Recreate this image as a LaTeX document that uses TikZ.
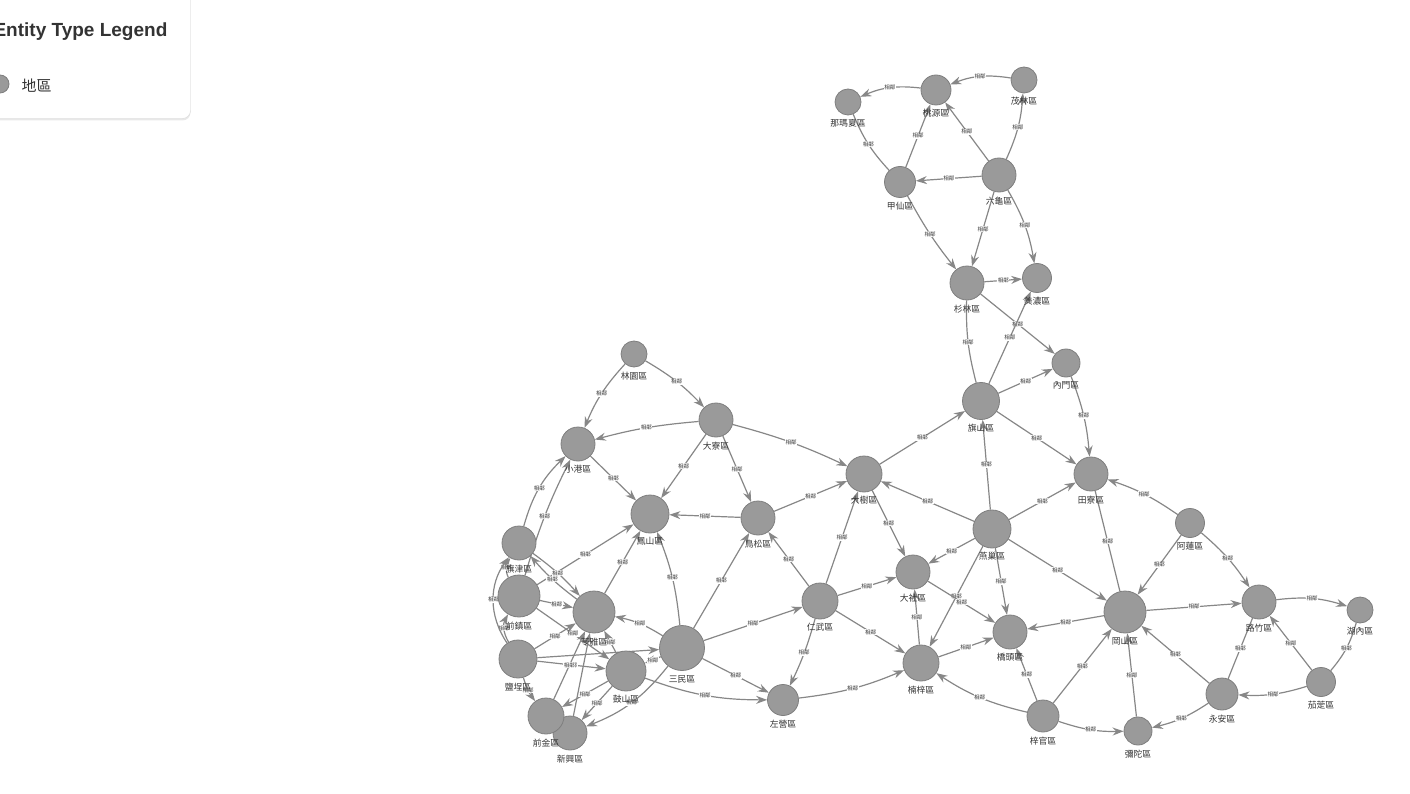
\documentclass[tikz,border=0pt]{standalone}
\usepackage{fontspec}
\setmainfont{Liberation Sans}
\newfontfamily\cjk{Noto Sans CJK TC}
\usepackage{tikz}
\usetikzlibrary{positioning,arrows.meta,backgrounds,shadows}
\definecolor{nodefill}{HTML}{9A9A9A}
\definecolor{nodeline}{HTML}{7E7E7E}
\definecolor{edgecol}{HTML}{878787}
\definecolor{labeltext}{HTML}{333333}

\begin{document}
\begin{tikzpicture}[
    x=1pt, y=-1pt,
    node distance=4pt,
    district/.style={circle, draw=nodeline, fill=nodefill, line width=0.8pt, minimum size=#1, inner sep=0pt},
    district/.default=34pt,
    dname/.style={font=\cjk\fontsize{8.8}{9}\selectfont, text=labeltext, inner sep=0pt},
    link/.style={-{Stealth[length=11pt,width=8pt]}, draw=edgecol, line width=1.2pt},
    rel/.style={font=\cjk\fontsize{5.5}{6}\selectfont, fill=white, inner sep=0.5pt, text=black!80},
    legendbox/.style={rectangle, draw=black!15, fill=white, rounded corners=8pt, drop shadow={shadow xshift=0pt, shadow yshift=-2pt, opacity=0.18}}
]
    \useasboundingbox (0,0) rectangle (1410,794);

    % legend
    \node[legendbox, minimum width=201pt, minimum height=129pt] (legend) at (90,54) {};
    \node[anchor=west, font=\bfseries\fontsize{19}{22}\selectfont, text=labeltext] (legtitle) at (-10,32) {Entity Type Legend};
    \node[district=18pt] (legdot) at (0,84) {};
    \node[anchor=west, font=\cjk\fontsize{15}{18}\selectfont, text=labeltext] (legtext) at (18,86) {地區};

    % districts
    \node[district=26pt] (namaxia) at (848,102) {};
    \node[dname, below=of namaxia] (namaxia-l) {那瑪夏區};
    \node[district=30pt] (taoyuan) at (936,90) {};
    \node[dname, below=of taoyuan] (taoyuan-l) {桃源區};
    \node[district=26pt] (maolin) at (1024,80) {};
    \node[dname, below=of maolin] (maolin-l) {茂林區};
    \node[district=31pt] (jiaxian) at (900,182) {};
    \node[dname, below=of jiaxian] (jiaxian-l) {甲仙區};
    \node[district=34pt] (liugui) at (999,175) {};
    \node[dname, below=of liugui] (liugui-l) {六龜區};
    \node[district=34pt] (shanlin) at (967,283) {};
    \node[dname, below=of shanlin] (shanlin-l) {杉林區};
    \node[district=29pt] (meinong) at (1037,278) {};
    \node[dname, below=of meinong] (meinong-l) {美濃區};
    \node[district=28pt] (neimen) at (1066,363) {};
    \node[dname, below=of neimen] (neimen-l) {內門區};
    \node[district=37pt] (qishan) at (981,401) {};
    \node[dname, below=of qishan] (qishan-l) {旗山區};
    \node[district=34pt] (tianliao) at (1091,474) {};
    \node[dname, below=of tianliao] (tianliao-l) {田寮區};
    \node[district=36pt] (dashu) at (864,474) {};
    \node[dname, below=of dashu] (dashu-l) {大樹區};
    \node[district=38pt] (yanchao) at (992,529) {};
    \node[dname, below=of yanchao] (yanchao-l) {燕巢區};
    \node[district=29pt] (alian) at (1190,523) {};
    \node[dname, below=of alian] (alian-l) {阿蓮區};
    \node[district=34pt] (luzhu) at (1259,602) {};
    \node[dname, below=of luzhu] (luzhu-l) {路竹區};
    \node[district=26pt] (hunei) at (1360,610) {};
    \node[dname, below=of hunei] (hunei-l) {湖內區};
    \node[district=29pt] (qieding) at (1321,682) {};
    \node[dname, below=of qieding] (qieding-l) {茄萣區};
    \node[district=32pt] (yongan) at (1222,694) {};
    \node[dname, below=of yongan] (yongan-l) {永安區};
    \node[district=28pt] (mituo) at (1138,731) {};
    \node[dname, below=of mituo] (mituo-l) {彌陀區};
    \node[district=32pt] (ziguan) at (1043,716) {};
    \node[dname, below=of ziguan] (ziguan-l) {梓官區};
    \node[district=42pt] (gangshan) at (1125,612) {};
    \node[dname, below=of gangshan] (gangshan-l) {岡山區};
    \node[district=34pt] (qiaotou) at (1010,632) {};
    \node[dname, below=of qiaotou] (qiaotou-l) {橋頭區};
    \node[district=36pt] (nanzi) at (921,663) {};
    \node[dname, below=of nanzi] (nanzi-l) {楠梓區};
    \node[district=34pt] (dashe) at (913,572) {};
    \node[dname, below=of dashe] (dashe-l) {大社區};
    \node[district=36pt] (renwu) at (820,601) {};
    \node[dname, below=of renwu] (renwu-l) {仁武區};
    \node[district=31pt] (zuoying) at (783,700) {};
    \node[dname, below=of zuoying] (zuoying-l) {左營區};
    \node[district=34pt] (niaosong) at (758,518) {};
    \node[dname, below=of niaosong] (niaosong-l) {鳥松區};
    \node[district=34pt] (daliao) at (716,420) {};
    \node[dname, below=of daliao] (daliao-l) {大寮區};
    \node[district=26pt] (linyuan) at (634,354) {};
    \node[dname, below=of linyuan] (linyuan-l) {林園區};
    \node[district=34pt] (xiaogang) at (578,444) {};
    \node[dname, below=of xiaogang] (xiaogang-l) {小港區};
    \node[district=38pt] (fengshan) at (650,514) {};
    \node[dname, below=of fengshan] (fengshan-l) {鳳山區};
    \node[district=34pt] (qijin) at (519,543) {};
    \node[dname, below=of qijin] (qijin-l) {旗津區};
    \node[district=42pt] (qianzhen) at (519,596) {};
    \node[dname, below=of qianzhen] (qianzhen-l) {前鎮區};
    \node[district=42pt] (lingya) at (594,612) {};
    \node[dname, below=of lingya] (lingya-l) {苓雅區};
    \node[district=38pt] (yancheng) at (518,659) {};
    \node[dname, below=of yancheng] (yancheng-l) {鹽埕區};
    \node[district=40pt] (gushan) at (626,671) {};
    \node[dname, below=of gushan] (gushan-l) {鼓山區};
    \node[district=45pt] (sanmin) at (682,648) {};
    \node[dname, below=of sanmin] (sanmin-l) {三民區};
    \node[district=34pt] (xinxing) at (570,733) {};
    \node[dname, below=of xinxing] (xinxing-l) {新興區};
    \node[district=36pt] (qianjin) at (546,716) {};
    \node[dname, below=of qianjin] (qianjin-l) {前金區};

    \begin{scope}[on background layer]
    % mountain districts
    \draw[link] (maolin) to[bend right=15] node[rel] {相鄰} (taoyuan);
    \draw[link] (taoyuan) to[bend right=15] node[rel] {相鄰} (namaxia);
    \draw[link, -] (jiaxian) to[bend left=10] node[rel] {相鄰} (namaxia);
    \draw[link] (jiaxian) -- node[rel] {相鄰} (taoyuan);
    \draw[link] (liugui) -- node[rel] {相鄰} (taoyuan);
    \draw[link] (liugui) to[bend right=10] node[rel] {相鄰} (maolin);
    \draw[link] (liugui) -- node[rel] {相鄰} (jiaxian);
    \draw[link] (liugui) -- node[rel] {相鄰} (shanlin);
    \draw[link] (liugui) to[bend left=10] node[rel] {相鄰} (meinong);
    \draw[link] (jiaxian) to[bend right=5] node[rel] {相鄰} (shanlin);
    \draw[link] (shanlin) -- node[rel] {相鄰} (meinong);
    \draw[link] (shanlin) -- node[rel] {相鄰} (neimen);
    \draw[link] (qishan) -- node[rel] {相鄰} (meinong);
    \draw[link, -] (qishan) to[bend left=8] node[rel] {相鄰} (shanlin);
    \draw[link] (qishan) -- node[rel] {相鄰} (neimen);
    \draw[link] (neimen) to[bend left=8] node[rel] {相鄰} (tianliao);
    \draw[link] (qishan) -- node[rel] {相鄰} (tianliao);
    \draw[link] (yanchao) -- node[rel] {相鄰} (qishan);
    \draw[link] (dashu) -- node[rel] {相鄰} (qishan);
    % middle
    \draw[link] (yanchao) -- node[rel] {相鄰} (dashu);
    \draw[link] (yanchao) -- node[rel] {相鄰} (tianliao);
    \draw[link] (alian) to[bend right=8] node[rel] {相鄰} (tianliao);
    \draw[link, -] (tianliao) -- node[rel] {相鄰} (gangshan);
    \draw[link] (yanchao) -- node[rel] {相鄰} (gangshan);
    \draw[link] (yanchao) -- node[rel] {相鄰} (qiaotou);
    \draw[link] (yanchao) -- node[rel] {相鄰} (dashe);
    \draw[link] (yanchao) -- node[rel] {相鄰} (nanzi);
    \draw[link] (alian) -- node[rel] {相鄰} (gangshan);
    \draw[link] (alian) to[bend left=8] node[rel] {相鄰} (luzhu);
    \draw[link] (gangshan) -- node[rel] {相鄰} (luzhu);
    % coast
    \draw[link] (luzhu) to[bend left=12] node[rel] {相鄰} (hunei);
    \draw[link, -] (qieding) to[bend right=12] node[rel] {相鄰} (hunei);
    \draw[link] (qieding) -- node[rel] {相鄰} (luzhu);
    \draw[link] (qieding) to[bend left=10] node[rel] {相鄰} (yongan);
    \draw[link, -] (yongan) -- node[rel] {相鄰} (luzhu);
    \draw[link] (yongan) -- node[rel] {相鄰} (gangshan);
    \draw[link] (yongan) to[bend left=10] node[rel] {相鄰} (mituo);
    \draw[link] (mituo) -- node[rel] {相鄰} (gangshan);
    \draw[link] (ziguan) -- node[rel] {相鄰} (gangshan);
    \draw[link] (ziguan) to[bend right=10] node[rel] {相鄰} (mituo);
    \draw[link] (ziguan) -- node[rel] {相鄰} (qiaotou);
    \draw[link] (ziguan) to[bend left=10] node[rel] {相鄰} (nanzi);
    \draw[link] (gangshan) -- node[rel] {相鄰} (qiaotou);
    \draw[link] (nanzi) -- node[rel] {相鄰} (qiaotou);
    \draw[link] (dashe) -- node[rel] {相鄰} (qiaotou);
    \draw[link] (nanzi) -- node[rel] {相鄰} (dashe);
    \draw[link] (dashu) -- node[rel] {相鄰} (dashe);
    \draw[link] (renwu) -- node[rel] {相鄰} (dashe);
    \draw[link] (renwu) -- node[rel] {相鄰} (dashu);
    \draw[link] (renwu) -- node[rel] {相鄰} (nanzi);
    \draw[link] (renwu) -- node[rel] {相鄰} (niaosong);
    \draw[link] (renwu) to[bend left=5] node[rel] {相鄰} (zuoying);
    \draw[link] (zuoying) to[bend right=8] node[rel] {相鄰} (nanzi);
    % city
    \draw[link] (sanmin) -- node[rel] {相鄰} (zuoying);
    \draw[link] (gushan) to[bend right=10] node[rel] {相鄰} (zuoying);
    \draw[link] (sanmin) -- node[rel] {相鄰} (renwu);
    \draw[link] (sanmin) -- node[rel] {相鄰} (niaosong);
    \draw[link] (sanmin) to[bend right=8] node[rel] {相鄰} (fengshan);
    \draw[link] (sanmin) to[bend right=10] node[rel] {相鄰} (lingya);
    \draw[link] (niaosong) -- node[rel] {相鄰} (fengshan);
    \draw[link] (niaosong) -- node[rel] {相鄰} (dashu);
    \draw[link] (daliao) to[bend left=5] node[rel] {相鄰} (dashu);
    \draw[link] (daliao) -- node[rel] {相鄰} (fengshan);
    \draw[link] (daliao) -- node[rel] {相鄰} (niaosong);
    \draw[link] (daliao) to[bend right=5] node[rel] {相鄰} (xiaogang);
    \draw[link] (linyuan) to[bend right=10] node[rel] {相鄰} (xiaogang);
    \draw[link] (linyuan) to[bend left=8] node[rel] {相鄰} (daliao);
    \draw[link] (xiaogang) -- node[rel] {相鄰} (fengshan);
    \draw[link] (qijin) to[bend left=15] node[rel] {相鄰} (xiaogang);
    \draw[link] (qianzhen) to[bend left=5] node[rel] {相鄰} (xiaogang);
    \draw[link] (qianzhen) -- node[rel] {相鄰} (fengshan);
    \draw[link] (qijin) to[bend left=6] node[rel] {相鄰} (lingya);
    \draw[link] (lingya) to[bend left=6] node[rel] {相鄰} (qijin);
    \draw[link] (lingya) -- node[rel] {相鄰} (fengshan);
    \draw[link] (qianzhen) -- node[rel] {相鄰} (lingya);
    \draw[link] (yancheng) -- node[rel] {相鄰} (lingya);
    \draw[link] (qianzhen) to[bend left=30] node[rel] {相鄰} (qijin);
    \draw[link] (yancheng) to[bend left=30] node[rel] {相鄰} (qianzhen);
    \draw[link] (yancheng) to[bend left=35] node[rel] {相鄰} (qijin);
    \draw[link] (qianzhen) -- node[rel] {相鄰} (gushan);
    \draw[link] (yancheng) -- (sanmin);
    \draw[link] (yancheng) -- node[rel] {相鄰} (gushan);
    \draw[link] (yancheng) to[bend right=10] node[rel] {相鄰} (qianjin);
    \draw[link] (qianjin) -- node[rel] {相鄰} (lingya);
    \draw[link] (xinxing) -- (lingya);
    \draw[link] (gushan) -- node[rel] {相鄰} (qianjin);
    \draw[link] (gushan) -- node[rel] {相鄰} (xinxing);
    \draw[link] (sanmin) to[bend left=15] node[rel] {相鄰} (xinxing);
    \draw[link] (sanmin) -- node[rel] {相鄰} (gushan);
    \draw[link] (gushan) -- node[rel] {相鄰} (lingya);
    \end{scope}
\end{tikzpicture}
\end{document}
